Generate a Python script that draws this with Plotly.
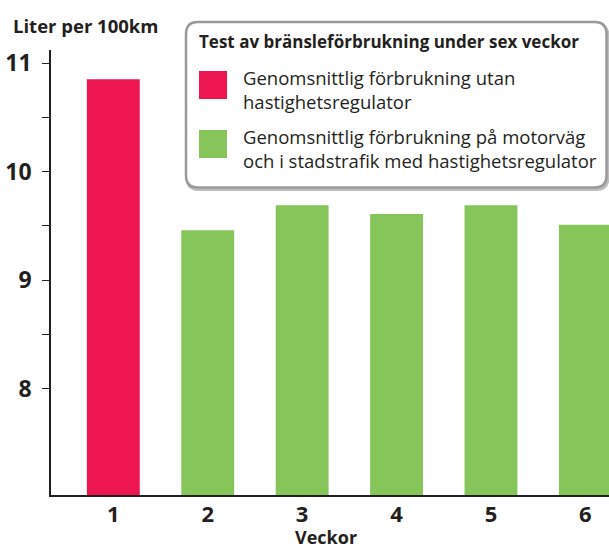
import plotly.graph_objects as go

# ---- data ----
weeks = ["1", "2", "3", "4", "5", "6"]
consumption = [10.85, 9.46, 9.69, 9.61, 9.69, 9.51]
bar_colors = ["#ED1650", "#85C559", "#85C559", "#85C559", "#85C559", "#85C559"]
y_tickvals = [8, 8.5, 9, 9.5, 10, 10.5, 11]
y_ticktext = ["8", "", "9", "", "10", "", "11"]
legend_title = "Test av bränsleförbrukning under sex veckor"
legend_items = [
    ("Genomsnittlig förbrukning utan<br>hastighetsregulator", "#ED1650"),
    ("Genomsnittlig förbrukning på motorväg<br>och i stadstrafik med hastighetsregulator", "#85C559"),
]
y_title = "Liter per 100km"
x_title = "Veckor"

W, H = 609, 547
L, R, T, B = 51, 0, 50, 52
PW, PH = W - L - R, H - T - B
FONT = "Open Sans"
TXT = "#231F20"

def px(x):
    return (x - L) / PW

def py(y):
    return (H - B - y) / PH

fig = go.Figure()
fig.add_trace(go.Bar(
    x=[int(w) for w in weeks], y=consumption, marker=dict(color=bar_colors, line=dict(width=0)),
    width=0.56, showlegend=False,
))

def rrect(x0, y0, x1, y1, r):
    return (f"M{px(x0+r)},{py(y0)} L{px(x1-r)},{py(y0)} Q{px(x1)},{py(y0)} {px(x1)},{py(y0+r)} "
            f"L{px(x1)},{py(y1-r)} Q{px(x1)},{py(y1)} {px(x1-r)},{py(y1)} "
            f"L{px(x0+r)},{py(y1)} Q{px(x0)},{py(y1)} {px(x0)},{py(y1-r)} "
            f"L{px(x0)},{py(y0+r)} Q{px(x0)},{py(y0)} {px(x0+r)},{py(y0)} Z")

shapes = []
shapes.append(dict(type="path", xref="paper", yref="paper", path=rrect(187, 24, 608, 189.5, 12),
                   line=dict(color="#bdbdbd", width=3), fillcolor="rgba(0,0,0,0)", layer="above"))
shapes.append(dict(type="path", xref="paper", yref="paper", path=rrect(186, 22, 606.5, 187.5, 12),
                   line=dict(color="#9a9a9a", width=2.5), fillcolor="white", layer="above"))
annotations = []
annotations.append(dict(text=f"<b>{legend_title}</b>", x=px(197), y=py(41), xref="paper", yref="paper",
                        xanchor="left", yanchor="middle", showarrow=False,
                        font=dict(family=FONT, size=17, color=TXT)))
item_tops = [71, 130]
for (label, col), top in zip(legend_items, item_tops):
    shapes.append(dict(type="rect", xref="paper", yref="paper", x0=px(199), x1=px(227),
                       y0=py(top), y1=py(top + 28), fillcolor=col, line=dict(width=0), layer="above"))
    annotations.append(dict(text=label, x=px(241), y=py(top + 18), xref="paper", yref="paper",
                            xanchor="left", yanchor="middle", align="left", showarrow=False,
                            font=dict(family=FONT, size=18.5, color=TXT)))
annotations.append(dict(text=f"<b>{y_title}</b>", x=px(11), y=py(25), xref="paper", yref="paper",
                        xanchor="left", yanchor="middle", showarrow=False,
                        font=dict(family=FONT, size=18.5, color=TXT)))
annotations.append(dict(text=f"<b>{x_title}</b>", x=px(326), y=py(537), xref="paper", yref="paper",
                        xanchor="center", yanchor="middle", showarrow=False,
                        font=dict(family=FONT, size=18, color=TXT)))

fig.update_layout(
    width=W, height=H, margin=dict(l=L, r=R, t=T, b=B, autoexpand=False),
    plot_bgcolor="white", paper_bgcolor="white",
    font=dict(family=FONT, color=TXT),
    shapes=shapes, annotations=annotations,
    xaxis=dict(range=[0.34, 6.25], tickvals=[1, 2, 3, 4, 5, 6], ticktext=[f"<b>{w}</b>" for w in weeks],
               showline=True, linecolor=TXT, linewidth=1.5, ticks="", showgrid=False, zeroline=False,
               tickfont=dict(family=FONT, size=22, color=TXT), ticklabelstandoff=-1),
    yaxis=dict(range=[7.02, 11.12], tickvals=y_tickvals, ticktext=[f"<b>{t}</b>" if t else "" for t in y_ticktext],
               showline=True, linecolor=TXT, linewidth=1.5, ticks="outside", ticklen=7, tickwidth=1.2,
               tickcolor=TXT, showgrid=False, zeroline=False, ticklabelstandoff=6,
               tickfont=dict(family=FONT, size=23, color=TXT)),
)
fig.write_html("out.html", config={"displayModeBar": False},
               post_script="document.body.style.margin='0';document.body.style.overflow='hidden';")
